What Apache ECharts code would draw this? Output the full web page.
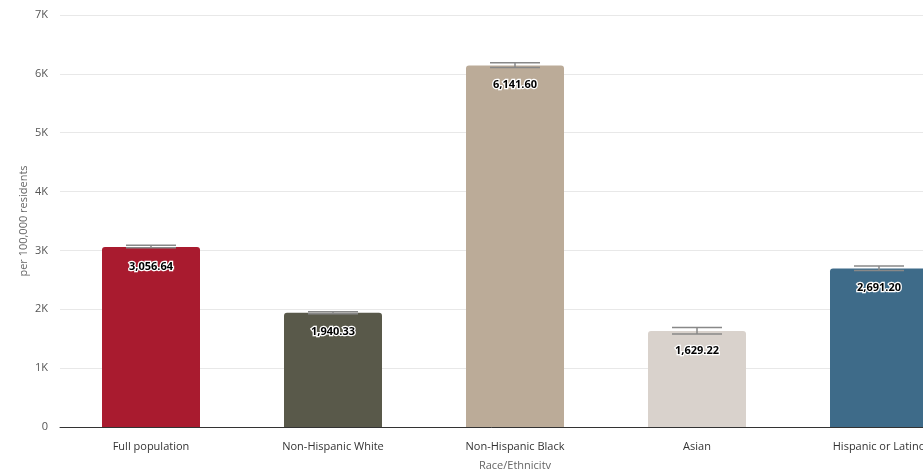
<!DOCTYPE html>
<html><head><meta charset="utf-8">
<script src="https://cdn.jsdelivr.net/npm/echarts@6/dist/echarts.min.js"></script>
<style>html,body{margin:0;padding:0;background:#fff}#c{width:923px;height:469px}</style>
</head><body><div id="c"></div>
<script>
const categories = ["Full population", "Non-Hispanic White", "Non-Hispanic Black", "Asian", "Hispanic or Latino"];
const rates = [3056.64, 1940.33, 6141.60, 1629.22, 2691.20];
const lowerCI = [3045, 1925, 6110, 1582, 2660];
const upperCI = [3090, 1960, 6188, 1692, 2735];
const barColors = ["#a91b2f", "#59594a", "#bbab98", "#d9d2cc", "#3e6b89"];
const yTicks = ["0", "1K", "2K", "3K", "4K", "5K", "6K", "7K"];

const chart = echarts.init(document.getElementById('c'));
const font = "'Open Sans', 'Noto Sans', sans-serif";
chart.setOption({
  animation: false,
  grid: { left: 60, right: -47, top: 15, bottom: 42, outerBoundsMode: 'none' },
  xAxis: {
    type: 'category', data: categories,
    name: 'Race/Ethnicity', nameLocation: 'middle', nameGap: 33, nameMoveOverlap: false,
    nameTextStyle: { color: '#666', fontSize: 11, fontFamily: font },
    axisLine: { lineStyle: { color: '#333', width: 1 } },
    axisTick: { show: false },
    axisLabel: { color: '#333', fontSize: 11, fontFamily: font, margin: 14, interval: 0 }
  },
  yAxis: {
    type: 'value', min: 0, max: 7000, interval: 1000,
    name: 'per 100,000 residents', nameLocation: 'middle', nameGap: 31, nameRotate: 90, nameMoveOverlap: false,
    nameTextStyle: { color: '#666', fontSize: 11, fontFamily: font },
    axisLine: { show: false }, axisTick: { show: false },
    axisLabel: { color: '#555', fontSize: 11, fontFamily: font, margin: 12,
      formatter: v => yTicks[Math.round(v / 1000)] },
    splitLine: { lineStyle: { color: '#e8e8e8', width: 1 } }
  },
  series: [
    {
      type: 'bar', barWidth: 98,
      data: rates.map((v, i) => ({ value: v, itemStyle: { color: barColors[i], borderRadius: [3, 3, 0, 0] } })),
      label: {
        show: true, position: 'insideTop', distance: 14,
        color: '#000', fontSize: 11, fontWeight: 'bold', fontFamily: font,
        textBorderColor: '#fff', textBorderWidth: 2.5,
        formatter: p => p.value.toLocaleString('en-US', { minimumFractionDigits: 2, maximumFractionDigits: 2 })
      },
      z: 2
    },
    {
      type: 'custom', z: 5,
      data: categories.map((c, i) => [i, lowerCI[i], upperCI[i]]),
      renderItem: (params, api) => {
        const x = api.value(0);
        const lo = api.coord([x, api.value(1)]);
        const hi = api.coord([x, api.value(2)]);
        const hw = 25;
        const style = { stroke: '#888', lineWidth: 1.5 };
        return { type: 'group', children: [
          { type: 'line', shape: { x1: hi[0], y1: hi[1], x2: lo[0], y2: lo[1] }, style },
          { type: 'line', shape: { x1: hi[0] - hw, y1: hi[1], x2: hi[0] + hw, y2: hi[1] }, style },
          { type: 'line', shape: { x1: lo[0] - hw, y1: lo[1], x2: lo[0] + hw, y2: lo[1] }, style }
        ] };
      }
    }
  ]
});
</script></body></html>
